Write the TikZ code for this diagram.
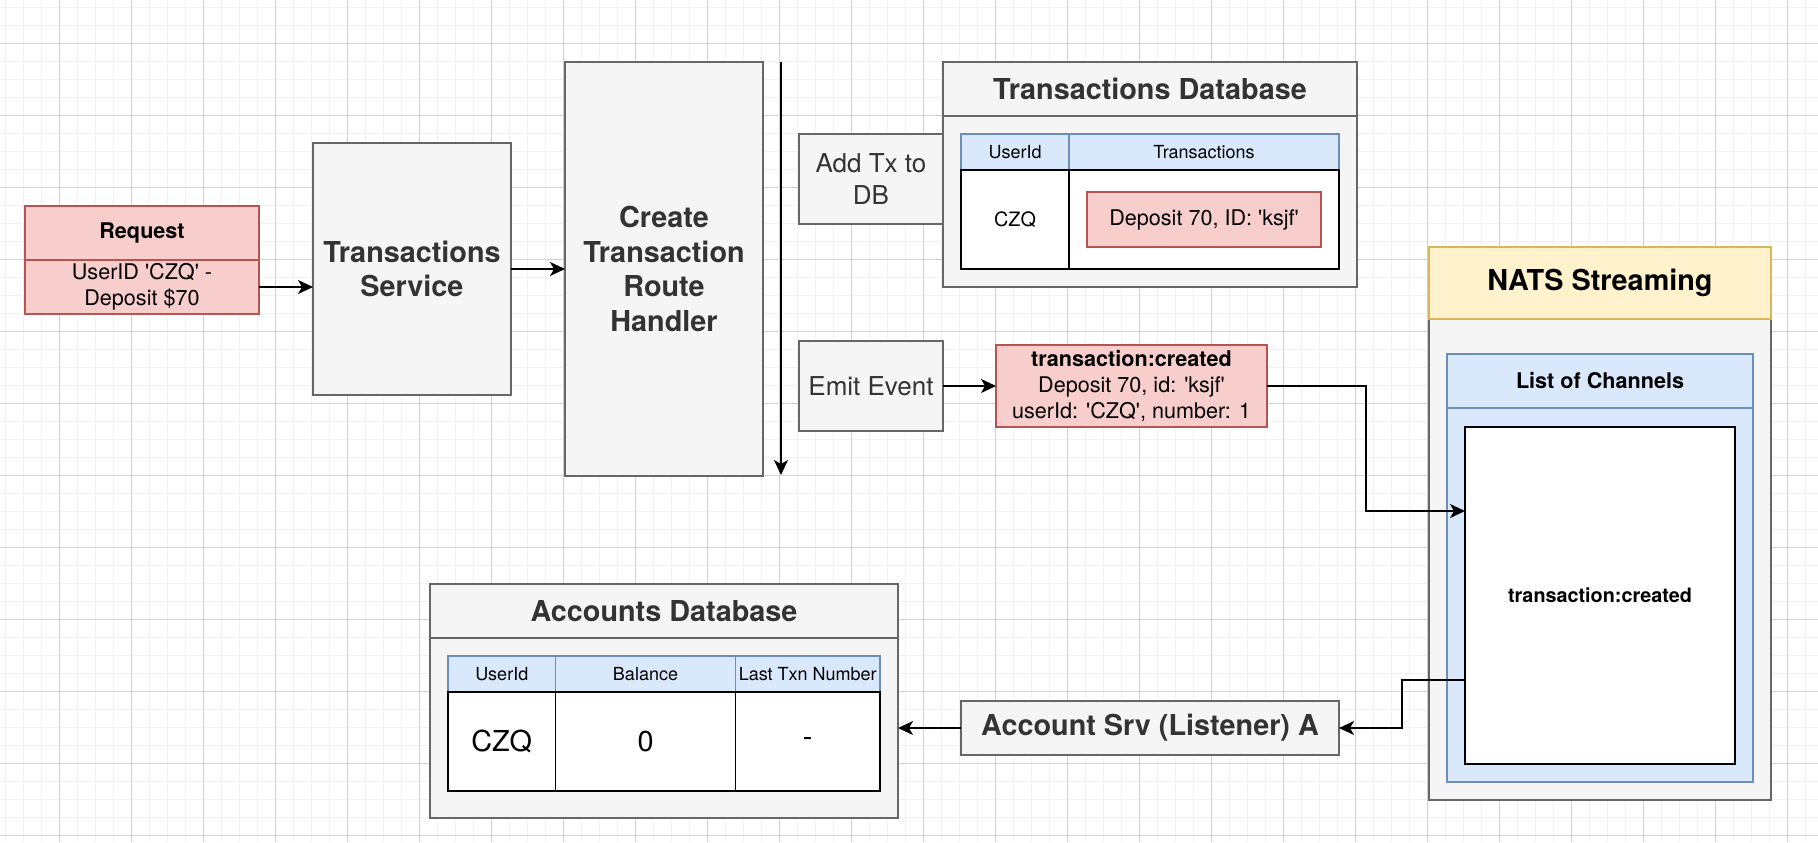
\documentclass[tikz,border=0pt]{standalone}
\usepackage{fontspec}
\setmainfont{TeX Gyre Heros}[Ligatures=TeXOff]
\usetikzlibrary{arrows.meta}
\definecolor{gfill}{HTML}{F5F5F5}
\definecolor{gline}{HTML}{666666}
\definecolor{gtext}{HTML}{333333}
\definecolor{rfill}{HTML}{F8CECC}
\definecolor{rline}{HTML}{B85450}
\definecolor{bfill}{HTML}{DAE8FC}
\definecolor{bline}{HTML}{6C8EBF}
\definecolor{yfill}{HTML}{FFF2CC}
\definecolor{yline}{HTML}{D6B656}
\definecolor{gridminor}{HTML}{F1F1F1}
\definecolor{gridmajor}{HTML}{D2D2D2}
\newcommand\fsA{\fontsize{9}{10.8}\selectfont}
\newcommand\fsB{\fontsize{9.9}{11.9}\selectfont}
\newcommand\fsC{\fontsize{10.8}{12.96}\selectfont}
\newcommand\fsD{\fontsize{13}{15.6}\selectfont}
\newcommand\fsE{\fontsize{14.4}{17.28}\selectfont}
\begin{document}
\begin{tikzpicture}[x=0.5pt,y=-0.5pt,
  wh/.style 2 args={minimum width=#1*0.5pt, minimum height=#2*0.5pt},
  box/.style={rectangle, draw, anchor=north west, inner sep=0pt, outer sep=0pt, line width=0.9pt, align=center},
  gbox/.style={box, fill=gfill, draw=gline, text=gtext},
  rbox/.style={box, fill=rfill, draw=rline, text=black},
  bbox/.style={box, fill=bfill, draw=bline, text=black},
  ybox/.style={box, fill=yfill, draw=yline, text=black},
  wbox/.style={box, fill=white, draw=black, text=black},
  conn/.style={line width=0.8pt, draw=black, -{Stealth[length=7.5pt,width=7pt,inset=2pt]}},
  gminor/.style={draw=gridminor, line width=0.5pt},
  gmajor/.style={draw=gridmajor, line width=0.5pt}]
\useasboundingbox (0,0) rectangle (1818,842);
\fill[white] (0,0) rectangle (1818,842);
% grid
\foreach \i in {0,...,100} \draw[gminor] ({5.3+18*\i},0) -- ({5.3+18*\i},842);
\foreach \i in {0,...,46} \draw[gminor] (0,{7.3+18*\i}) -- (1818,{7.3+18*\i});
\foreach \i in {0,...,24} \draw[gmajor] ({59.3+72*\i},0) -- ({59.3+72*\i},842);
\foreach \i in {0,...,11} \draw[gmajor] (0,{43.3+72*\i}) -- (1818,{43.3+72*\i});

% Request
\node[rbox, wh={234}{54}, font=\fsC\bfseries] (reqh) at (25,206) {Request};
\node[rbox, wh={234}{54}, font=\fsC] (reqb) at (25,260) {UserID 'CZQ' -\\Deposit \$70};

% Transactions Service
\node[gbox, wh={198}{252}, font=\fsE\bfseries] (ts) at (313,143) {Transactions\\Service};

% Route handler
\node[gbox, wh={198}{414}, font=\fsE\bfseries] (rh) at (565,62) {Create\\Transaction\\Route\\Handler};

% vertical flow line
\coordinate (vtop) at (781,62);
\coordinate (vbot) at (781,475);

% steps
\node[gbox, wh={144}{90}, font=\fsD] (addtx) at (799,134) {Add Tx to\\DB};
\node[gbox, wh={144}{90}, font=\fsD] (emit) at (799,341) {Emit Event};

% Transactions Database
\node[gbox, wh={414}{171}] (tdbb) at (943,116) {};
\node[gbox, wh={414}{54}, font=\fsE\bfseries] (tdbh) at (943,62) {Transactions Database};
\node[bbox, wh={108}{36}, font=\fsA] (th1) at (961,134) {UserId};
\node[bbox, wh={270}{36}, font=\fsA] (th2) at (1069,134) {Transactions};
\node[wbox, wh={108}{99}, font=\fsB] (tb1) at (961,170) {CZQ};
\node[wbox, wh={270}{99}] (tb2) at (1069,170) {};
\node[rbox, wh={234}{55}, font=\fsC] (dep) at (1087,192) {Deposit 70, ID: 'ksjf'};

% Event
\node[rbox, wh={271}{82}, font=\fsC] (ev) at (996,345) {\textbf{transaction:created}\\Deposit 70, id: 'ksjf'\\userId: 'CZQ', number: 1};

% NATS
\node[gbox, wh={342}{481}] (nb) at (1429,319) {};
\node[ybox, wh={342}{72}, font=\fsE\bfseries] (nh) at (1429,247) {NATS Streaming};
\node[bbox, wh={306}{374}] (lb) at (1447,408) {};
\node[bbox, wh={306}{54}, font=\fsC\bfseries] (lh) at (1447,354) {List of Channels};
\node[wbox, wh={270}{337}, font=\fsB\bfseries] (chan) at (1465,427) {transaction:created};
\coordinate (chanin) at (1465,511);
\coordinate (chanout) at (1465,680);

% Account service
\node[gbox, wh={378}{54}, font=\fsE\bfseries] (acc) at (961,701) {Account Srv (Listener) A};

% Accounts Database
\node[gbox, wh={468}{180}] (adbb) at (430,638) {};
\node[gbox, wh={468}{54}, font=\fsE\bfseries] (adbh) at (430,584) {Accounts Database};
\node[bbox, wh={107.5}{36}, font=\fsA] (ah1) at (448,656) {UserId};
\node[bbox, wh={180}{36}, font=\fsA] (ah2) at (555.5,656) {Balance};
\node[bbox, wh={144.5}{36}, font=\fsA] (ah3) at (735.5,656) {Last Txn Number};
\node[wbox, wh={107.5}{99}, font=\fsE] (ab1) at (448,692) {CZQ};
\node[wbox, wh={180}{99}, font=\fsE] (ab2) at (555.5,692) {0};
\node[wbox, wh={144.5}{99}, font=\fsE] (ab3) at (735.5,692) {-};

% connectors
\draw[conn] (reqb.east) -- (reqb.east -| ts.west);
\draw[conn] (ts.east) -- (ts.east -| rh.west);
\draw[conn] (vtop) -- (vbot);
\draw[conn] (emit.east) -- (emit.east -| ev.west);
\draw[conn] (ev.east) -- (1366,386) -- (1366,511) -- (chanin);
\draw[conn] (chanout) -- (1402,680) -- (1402,728) -- (acc.east);
\draw[conn] (acc.west) -- (acc.west -| adbb.east);
\end{tikzpicture}
\end{document}
